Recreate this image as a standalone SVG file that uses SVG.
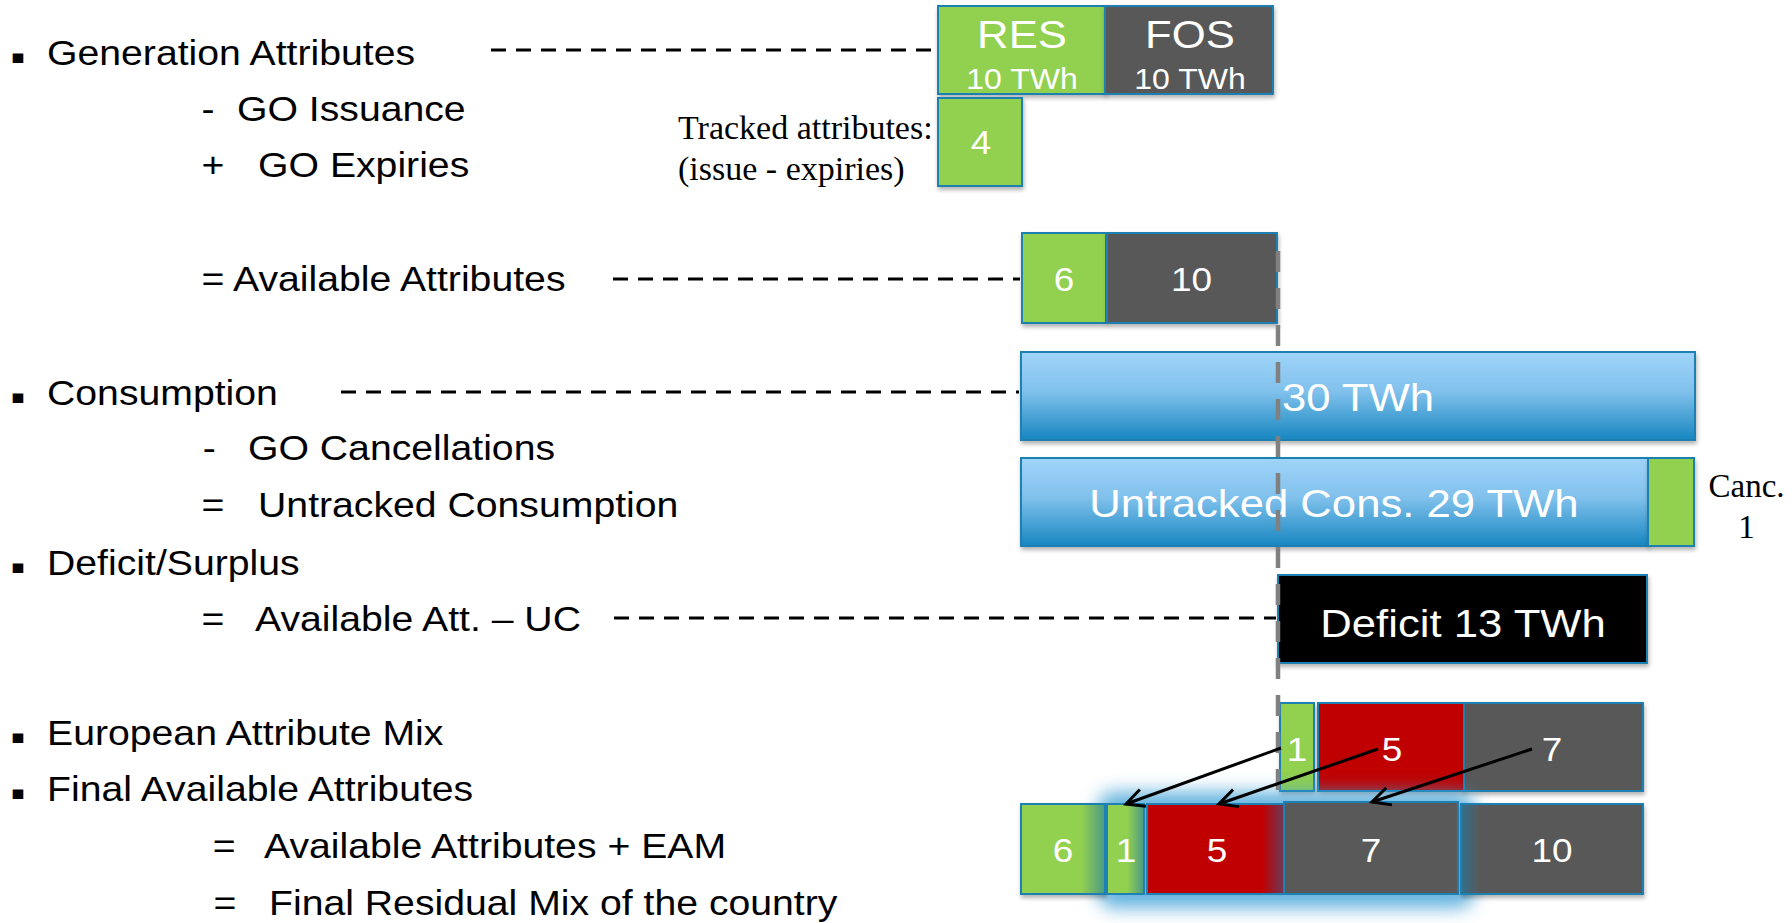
<svg xmlns="http://www.w3.org/2000/svg" width="1792" height="923" viewBox="0 0 1792 923">
<style>
.lt{font-family:"Liberation Sans",Arial,sans-serif;font-size:35px;fill:#000}
.bl{font-family:"DejaVu Sans",sans-serif;font-size:19px;fill:#000}
.tm{font-family:"Liberation Serif","Times New Roman",serif;font-size:34px;fill:#000}
.bt{font-family:"Liberation Sans",Arial,sans-serif;fill:#fff;text-anchor:middle}
.n{font-size:33px}
.big{font-size:39px}
.sm{font-size:28.6px}
.box{stroke:#1f80b3;stroke-width:2}
.g{fill:#92d050}
.d{fill:#595959}
.r{fill:#c00000}
.dash{stroke:#000;stroke-width:3;stroke-dasharray:15 10;fill:none}
.vd{stroke:#808080;stroke-width:4.5;stroke-dasharray:21 16;fill:none}
.arr{stroke:#000;stroke-width:3;fill:none;marker-end:url(#ah)}
</style>
<defs>
<filter id="sh" x="-10%" y="-10%" width="130%" height="140%">
<feDropShadow dx="1" dy="3" stdDeviation="2" flood-color="#000" flood-opacity="0.3"/>
</filter>
<filter id="glow" x="-20%" y="-40%" width="140%" height="180%">
<feGaussianBlur stdDeviation="9"/>
</filter>
<linearGradient id="blue" x1="0" y1="0" x2="0" y2="1">
<stop offset="0" stop-color="#a0d4f9"/>
<stop offset="0.45" stop-color="#80c1ec"/>
<stop offset="1" stop-color="#1786c0"/>
</linearGradient>
<linearGradient id="gf" x1="0" y1="0" x2="1" y2="0">
<stop offset="0" stop-color="#92d050"/>
<stop offset="0.72" stop-color="#92d050"/>
<stop offset="1" stop-color="#4a9a86"/>
</linearGradient>
<linearGradient id="gf2" x1="0" y1="0" x2="1" y2="0">
<stop offset="0" stop-color="#92d050"/>
<stop offset="0.55" stop-color="#92d050"/>
<stop offset="1" stop-color="#4a9a86"/>
</linearGradient>
<linearGradient id="rf" x1="0" y1="0" x2="1" y2="0">
<stop offset="0" stop-color="#c00000"/>
<stop offset="0.84" stop-color="#c00000"/>
<stop offset="1" stop-color="#6a3a58"/>
</linearGradient>
<linearGradient id="df" x1="0" y1="0" x2="1" y2="0">
<stop offset="0" stop-color="#2f7090"/>
<stop offset="0.1" stop-color="#595959"/>
<stop offset="1" stop-color="#595959"/>
</linearGradient>
<marker id="ah" markerUnits="userSpaceOnUse" viewBox="0 0 24 24" markerWidth="24" markerHeight="24" refX="21" refY="12" orient="auto">
<path d="M3,3 L21,12 L3,21" stroke="#000" stroke-width="3" fill="none"/>
</marker>
</defs>

<g id="left-text" transform="scale(1.12 1)">
<text class="bl" x="9.5" y="63">▪</text>
<text class="lt" x="42" y="65">Generation Attributes</text>
<text class="lt" y="121"><tspan x="180">-</tspan><tspan x="211.6">GO Issuance</tspan></text>
<text class="lt" y="177"><tspan x="180">+</tspan><tspan x="230.4">GO Expiries</tspan></text>
<text class="lt" y="291"><tspan x="180">=</tspan><tspan x="208">Available Attributes</tspan></text>
<text class="bl" x="9.5" y="403">▪</text>
<text class="lt" x="42" y="405">Consumption</text>
<text class="lt" y="460"><tspan x="181">-</tspan><tspan x="221.4">GO Cancellations</tspan></text>
<text class="lt" y="517"><tspan x="180">=</tspan><tspan x="230.4">Untracked Consumption</tspan></text>
<text class="bl" x="9.5" y="573">▪</text>
<text class="lt" x="42" y="575">Deficit/Surplus</text>
<text class="lt" y="631"><tspan x="180">=</tspan><tspan x="227.7">Available Att. – UC</tspan></text>
<text class="bl" x="9.5" y="743">▪</text>
<text class="lt" x="42" y="745">European Attribute Mix</text>
<text class="bl" x="9.5" y="799">▪</text>
<text class="lt" x="42" y="801">Final Available Attributes</text>
<text class="lt" y="858"><tspan x="190">=</tspan><tspan x="235.7">Available Attributes + EAM</tspan></text>
<text class="lt" y="915"><tspan x="190.6">=</tspan><tspan x="240.2">Final Residual Mix of the country</tspan></text>
</g>

<g id="tracked-label">
<text class="tm" x="678" y="139">Tracked attributes:</text>
<text class="tm" x="678" y="180">(issue - expiries)</text>
</g>

<g id="res">
<rect class="box g" x="938" y="6" width="167" height="88" filter="url(#sh)"/>
<text class="bt big" transform="scale(1.12 1)" x="912.5" y="48">RES</text>
<text class="bt sm" transform="scale(1.12 1)" x="912.5" y="89">10 TWh</text>
</g>
<g id="fos">
<rect class="box d" x="1105" y="6" width="168" height="88" filter="url(#sh)"/>
<text class="bt big" transform="scale(1.12 1)" x="1062.5" y="48">FOS</text>
<text class="bt sm" transform="scale(1.12 1)" x="1062.5" y="89">10 TWh</text>
</g>
<g id="tracked">
<rect class="box g" x="938" y="98" width="84" height="88" filter="url(#sh)"/>
<text class="bt n" transform="scale(1.12 1)" x="876" y="154">4</text>
</g>
<g id="avail-res">
<rect class="box g" x="1022" y="233" width="84" height="90" filter="url(#sh)"/>
<text class="bt n" transform="scale(1.12 1)" x="950" y="291">6</text>
</g>
<g id="avail-fos">
<rect class="box d" x="1107" y="233" width="170" height="90" filter="url(#sh)"/>
<text class="bt n" transform="scale(1.12 1)" x="1063.8" y="291">10</text>
</g>
<g id="consumption">
<rect class="box" fill="url(#blue)" x="1021" y="352" width="674" height="88" filter="url(#sh)"/>
<text class="bt big" transform="scale(1.12 1)" x="1212.5" y="411">30 TWh</text>
</g>
<g id="untracked">
<rect class="box" fill="url(#blue)" x="1021" y="458" width="627" height="88" filter="url(#sh)"/>
<text class="bt big" transform="scale(1.12 1)" x="1191" y="517">Untracked Cons. 29 TWh</text>
</g>
<g id="cancelled">
<rect class="box g" x="1648" y="458" width="46" height="88" filter="url(#sh)"/>
<text class="tm" x="1746.5" y="497" text-anchor="middle" style="font-size:33px">Canc.</text>
<text class="tm" x="1746.5" y="538" text-anchor="middle" style="font-size:33px">1</text>
</g>
<g id="deficit">
<rect class="box" fill="#000" x="1278" y="575" width="369" height="88" filter="url(#sh)"/>
<text class="bt big" transform="scale(1.12 1)" x="1306.3" y="637">Deficit 13 TWh</text>
</g>
<g id="eam-res">
<rect class="box g" x="1280" y="703" width="34" height="88" filter="url(#sh)"/>
<text class="bt n" transform="scale(1.12 1)" x="1158" y="761">1</text>
</g>
<g id="eam-nuc">
<rect class="box r" x="1318" y="703" width="146" height="88" filter="url(#sh)"/>
<text class="bt n" transform="scale(1.12 1)" x="1242.9" y="761">5</text>
</g>
<g id="eam-fos">
<rect class="box d" x="1464" y="703" width="179" height="88" filter="url(#sh)"/>
<text class="bt n" transform="scale(1.12 1)" x="1385.7" y="761">7</text>
</g>
<g id="final-glow">
<rect x="1098" y="792" width="376" height="116" rx="16" fill="#3a9fd6" opacity="0.8" filter="url(#glow)"/>
</g>
<g id="final-res">
<rect class="box" fill="url(#gf)" x="1021" y="804" width="84" height="90" filter="url(#sh)"/>
<text class="bt n" transform="scale(1.12 1)" x="949.1" y="862">6</text>
</g>
<g id="final-eam-res">
<rect class="box" fill="url(#gf2)" x="1107" y="804" width="37" height="90"/>
<text class="bt n" transform="scale(1.12 1)" x="1005.4" y="862">1</text>
</g>
<g id="final-eam-nuc">
<rect class="box" fill="url(#rf)" x="1147" y="804" width="137" height="90"/>
<text class="bt n" transform="scale(1.12 1)" x="1086.6" y="862">5</text>
</g>
<g id="final-eam-fos">
<rect class="box d" x="1284" y="802" width="174" height="92"/>
<text class="bt n" transform="scale(1.12 1)" x="1224.1" y="862">7</text>
</g>
<g id="final-fos">
<rect class="box" fill="url(#df)" x="1461" y="804" width="182" height="90" filter="url(#sh)"/>
<text class="bt n" transform="scale(1.12 1)" x="1385.7" y="862">10</text>
</g>

<g id="connectors">
<line class="dash" x1="491" y1="50" x2="936" y2="50"/>
<line class="dash" x1="613" y1="279" x2="1020" y2="279"/>
<line class="dash" x1="341" y1="392" x2="1019" y2="392"/>
<line class="dash" x1="614" y1="618" x2="1276" y2="618"/>
<line class="vd" x1="1278" y1="251" x2="1278" y2="795"/>
<line class="arr" x1="1281" y1="748" x2="1126" y2="804"/>
<line class="arr" x1="1378" y1="749" x2="1219" y2="804"/>
<line class="arr" x1="1532" y1="749" x2="1372" y2="802"/>
</g>
</svg>
